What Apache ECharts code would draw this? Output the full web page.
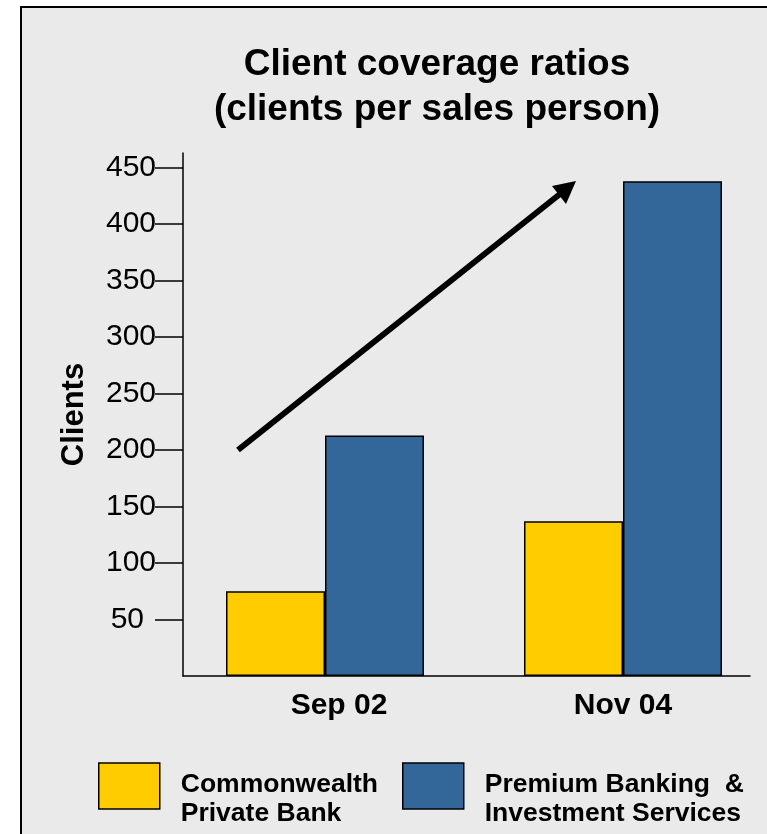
<!DOCTYPE html>
<html>
<head>
<meta charset="utf-8">
<title>Client coverage ratios</title>
<script src="https://cdn.jsdelivr.net/npm/echarts@6/dist/echarts.min.js"></script>
<style>
  html, body { margin: 0; padding: 0; background: #ffffff; overflow: hidden; }
  #frame {
    position: absolute; left: 20px; top: 6px; width: 820px; height: 900px;
    background: #eaeaea; border: 2px solid #000; box-sizing: border-box;
  }
  #chart { position: absolute; left: 0; top: 0; width: 767px; height: 834px; }
</style>
</head>
<body>
<div id="frame"></div>
<div id="chart"></div>
<script>
// Periods on the category axis
const categories = ['Sep 02', 'Nov 04'];
// Clients per sales person, by business
const privateBank = [75, 137];
const premiumBanking = [213, 438];
// Series names and their two-line legend captions
const seriesNames = ['Commonwealth Private Bank', 'Premium Banking & Investment Services'];
const legendCaptions = [['Commonwealth', 'Private Bank'], ['Premium Banking  &', 'Investment Services']];
// Value axis
const yMin = 0;
const yMax = 463;
const yTickValues = [50, 100, 150, 200, 250, 300, 350, 400, 450];

const FONT = '"Liberation Sans", Arial, Helvetica, sans-serif';
const YELLOW = '#ffcc00';
const BLUE = '#336699';

const chart = echarts.init(document.getElementById('chart'), null, { renderer: 'canvas' });

// caption sits a little below the swatch centre: a short spacer line goes first
const captionOf = name => {
  const lines = legendCaptions[seriesNames.indexOf(name)];
  return '{sp| }\n' + lines.map(l => '{t|' + l + '}').join('\n');
};

const legendBase = {
  orient: 'horizontal',
  top: 752,
  padding: 0,
  itemWidth: 61,
  itemHeight: 46,
  icon: 'rect',
  selectedMode: false,
  itemStyle: { borderColor: '#000', borderWidth: 1.5 },
  formatter: captionOf,
  textStyle: {
    fontFamily: FONT, fontSize: 26.5, fontWeight: 'bold', color: '#000',
    padding: [0, 0, 0, 16],
    rich: {
      sp: { fontSize: 10, lineHeight: 26 },
      t: { fontFamily: FONT, fontSize: 26.5, fontWeight: 'bold', color: '#000', lineHeight: 29 }
    }
  }
};

const option = {
  backgroundColor: 'transparent',
  animation: false,
  textStyle: { fontFamily: FONT },
  title: {
    text: 'Client coverage ratios\n(clients per sales person)',
    left: 437,
    top: 42,
    padding: 0,
    textAlign: 'center',
    textStyle: { fontFamily: FONT, fontSize: 37, fontWeight: 'bold', color: '#000', lineHeight: 45 }
  },
  legend: [
    Object.assign({}, legendBase, { left: 98, data: [seriesNames[0]] }),
    Object.assign({}, legendBase, { left: 402, data: [seriesNames[1]] })
  ],
  grid: [
    // band between the two period centres, where the bars sit
    { left: 325, top: 153, width: 298, height: 523, containLabel: false },
    // frame carrying the visible axis lines
    { left: 183, top: 153, width: 567, height: 523, containLabel: false }
  ],
  xAxis: [
    {
      type: 'category', gridIndex: 0, data: categories, boundaryGap: false,
      axisLine: { show: false }, axisTick: { show: false },
      axisLabel: {
        margin: 15,
        fontFamily: FONT, fontSize: 30, fontWeight: 'bold', color: '#000',
        formatter: (v, i) => i === 0 ? '{shift|' + v + '}' : '{plain|' + v + '}',
        rich: {
          shift: { fontFamily: FONT, fontSize: 30, fontWeight: 'bold', color: '#000', padding: [0, 0, 0, 28] },
          plain: { fontFamily: FONT, fontSize: 30, fontWeight: 'bold', color: '#000' }
        }
      },
      splitLine: { show: false }
    },
    {
      type: 'value', gridIndex: 1, min: 0, max: 1,
      axisLine: { show: true, onZero: false, lineStyle: { color: '#000', width: 1.5 } },
      axisTick: { show: false }, axisLabel: { show: false }, splitLine: { show: false }
    }
  ],
  yAxis: [
    {
      type: 'value', gridIndex: 0, min: yMin, max: yMax, show: false, splitLine: { show: false }
    },
    {
      type: 'value', gridIndex: 1, min: yMin, max: yMax,
      name: 'Clients',
      nameLocation: 'middle',
      nameRotate: 90,
      nameGap: 93,
      nameTextStyle: { fontFamily: FONT, fontSize: 31, fontWeight: 'bold', color: '#000' },
      axisLine: { show: true, onZero: false, lineStyle: { color: '#000', width: 1.5 } },
      axisTick: {
        show: true, length: 28, customValues: yTickValues,
        lineStyle: { color: '#000', width: 1.5 }
      },
      axisLabel: {
        margin: 27,
        customValues: yTickValues,
        fontFamily: FONT, fontSize: 30, color: '#000',
        formatter: v => v === 50 ? '{gap|50}' : String(v),
        rich: { gap: { fontFamily: FONT, fontSize: 30, color: '#000', padding: [0, 12, 0, 0] } }
      },
      splitLine: { show: false }
    }
  ],
  series: [
    {
      name: seriesNames[0], type: 'bar', xAxisIndex: 0, yAxisIndex: 0,
      data: privateBank, barWidth: 99, barGap: '0%',
      itemStyle: { color: YELLOW, borderColor: '#000', borderWidth: 1.5 }
    },
    {
      name: seriesNames[1], type: 'bar', xAxisIndex: 0, yAxisIndex: 0,
      data: premiumBanking, barWidth: 99, barGap: '0%',
      itemStyle: { color: BLUE, borderColor: '#000', borderWidth: 1.5 }
    }
  ],
  graphic: [
    // upward trend arrow
    {
      type: 'line', silent: true,
      shape: { x1: 238, y1: 450, x2: 560, y2: 194 },
      style: { stroke: '#000', lineWidth: 6, lineCap: 'butt' }
    },
    {
      type: 'polygon', silent: true,
      shape: { points: [[576, 181], [552, 186], [566, 204]] },
      style: { fill: '#000' }
    }
  ]
};

chart.setOption(option);
</script>
</body>
</html>
